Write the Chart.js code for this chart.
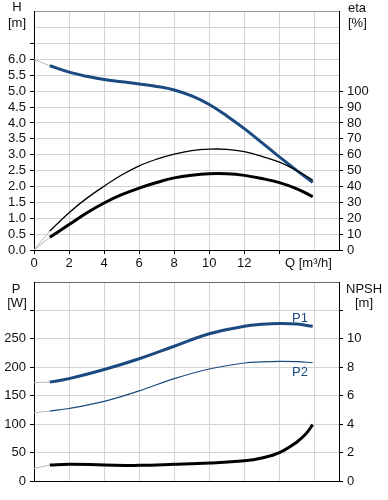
<!DOCTYPE html>
<html>
<head>
<meta charset="utf-8">
<script src="https://cdn.jsdelivr.net/npm/chart.js@4/dist/chart.umd.min.js"></script>
<style>
  html, body { margin: 0; padding: 0; background: #fff; }
  #wrap { position: relative; width: 388px; height: 500px; }
  canvas { position: absolute; left: 0; }
  #topChart { top: 0; }
  #bottomChart { top: 270px; }
</style>
</head>
<body>
<div id="wrap">
  <canvas id="topChart" width="388" height="270"></canvas>
  <canvas id="bottomChart" width="388" height="230"></canvas>
</div>
<script>
// --- top chart: head and efficiency vs flow ---
const flowTop = [0.9, 2, 3, 4, 5, 6, 7, 8, 9, 10, 11, 12, 13, 14, 15, 15.9];
const head = [5.8, 5.6, 5.47, 5.37, 5.3, 5.23, 5.15, 5.04, 4.85, 4.58, 4.22, 3.82, 3.38, 2.93, 2.5, 2.13];
const eta1 = [12, 23.5, 32.5, 40.2, 47.2, 53, 57.2, 60.4, 62.6, 63.5, 63.4, 62, 59, 55.3, 50, 44];
const eta2 = [8, 16, 23.3, 29.6, 34.8, 39, 42.5, 45.4, 47.1, 48, 48, 47, 45, 42.4, 38.5, 33.6];
const flowExt = [0, 0.9];
const headExt = [6.0, 5.8];
const eta1Ext = [0, 12];
const eta2Ext = [0, 8];

// --- bottom chart: power and NPSH vs flow ---
const flowP = [0.9, 2, 4, 6, 8, 10, 12, 13, 14, 15, 15.9];
const p1 = [174, 180, 196, 215, 237, 259, 272, 275.5, 277, 276, 272];
const p2 = [123, 127.5, 140, 158.5, 180, 197, 207.5, 209.5, 210.5, 210, 208];
const p1Ext = [173, 174];
const p2Ext = [120, 123];
const flowNpsh = [0.9, 2, 4, 6, 8, 10, 12, 13, 14, 15, 15.5, 15.9];
const npsh = [1.12, 1.18, 1.13, 1.1, 1.17, 1.26, 1.42, 1.62, 2.0, 2.75, 3.3, 3.96];
const npshExt = [0.88, 1.12];

const BLUE = '#1b4a80';
const GRID = '#d4d4d4';
const EXT = '#b4b4b4';
const FONT = { family: '"Liberation Sans", Arial, sans-serif', size: 13 };

Chart.defaults.font = FONT;
Chart.defaults.color = '#111';

const pts = (xs, ys) => xs.map((x, i) => ({ x: x, y: ys[i] }));

function line(data, color, width, axis) {
  return {
    data: data,
    borderColor: color,
    borderWidth: width,
    pointRadius: 0,
    fill: false,
    tension: 0.4,
    yAxisID: axis
  };
}

function texts(items) {
  return {
    id: 'texts',
    afterDraw(chart) {
      const ctx = chart.ctx;
      ctx.save();
      ctx.font = '13px "Liberation Sans", Arial, sans-serif';
      ctx.textBaseline = 'middle';
      items.forEach(t => {
        ctx.fillStyle = t.color || '#111';
        ctx.textAlign = t.align || 'left';
        ctx.fillText(t.text, t.x, t.y);
      });
      ctx.restore();
    }
  };
}

function xAxis(showLabels, height) {
  return {
    type: 'linear',
    min: 0,
    max: 17.4,
    afterFit: s => { s.height = height; },
    border: { color: '#000' },
    grid: {
      color: GRID,
      drawTicks: showLabels,
      tickLength: 4,
      tickColor: c => (c.tick.value <= 14 ? '#000' : 'transparent')
    },
    ticks: {
      display: showLabels,
      stepSize: 2,
      autoSkip: false,
      maxRotation: 0,
      padding: 2,
      includeBounds: false,
      callback: v => (v <= 12 ? v : '')
    }
  };
}

function yAxis(pos, max, step, lastLabel, lastTick, topColor, fmt, width) {
  return {
    type: 'linear',
    position: pos,
    min: 0,
    max: max,
    afterFit: s => { s.width = width; },
    border: { color: '#000' },
    grid: {
      drawOnChartArea: pos === 'left',
      color: c => (c.tick.value >= max ? topColor : GRID),
      tickLength: 4,
      tickColor: c => (c.tick.value <= lastTick + 1e-6 ? '#000' : 'transparent')
    },
    ticks: {
      stepSize: step,
      autoSkip: false,
      padding: 4,
      callback: v => (v <= lastLabel + 1e-6 ? fmt(v) : '')
    }
  };
}

new Chart(document.getElementById('topChart'), {
  type: 'line',
  data: {
    datasets: [
      line(pts(flowExt, headExt), EXT, 1, 'y'),
      line(pts(flowExt, eta1Ext), EXT, 1, 'y2'),
      line(pts(flowExt, eta2Ext), EXT, 1, 'y2'),
      line(pts(flowTop, eta1), '#000', 1.3, 'y2'),
      line(pts(flowTop, eta2), '#000', 3, 'y2'),
      line(pts(flowTop, head), BLUE, 3, 'y')
    ]
  },
  options: {
    responsive: false,
    animation: false,
    layout: { padding: 0 },
    plugins: { legend: { display: false }, tooltip: { enabled: false } },
    scales: {
      x: xAxis(true, 20),
      y: yAxis('left', 7.5, 0.5, 6, 6.5, '#999', v => v.toFixed(1), 34),
      y2: yAxis('right', 150, 10, 100, 100, '#999', v => v, 49)
    }
  },
  plugins: [texts([
    { text: 'H', x: 17, y: 7, align: 'center' },
    { text: '[m]', x: 17, y: 23, align: 'center' },
    { text: 'eta', x: 348, y: 8 },
    { text: '[%]', x: 348, y: 23 },
    { text: 'Q [m³/h]', x: 285, y: 263 }
  ])]
});

new Chart(document.getElementById('bottomChart'), {
  type: 'line',
  data: {
    datasets: [
      line(pts(flowExt, p1Ext), EXT, 1, 'y'),
      line(pts(flowExt, p2Ext), EXT, 1, 'y'),
      line(pts(flowExt, npshExt), EXT, 1, 'y2'),
      line(pts(flowP, p2), BLUE, 1.2, 'y'),
      line(pts(flowP, p1), BLUE, 3, 'y'),
      line(pts(flowNpsh, npsh), '#000', 3, 'y2')
    ]
  },
  options: {
    responsive: false,
    animation: false,
    layout: { padding: { top: 12, left: 0, right: 0, bottom: 0 } },
    plugins: { legend: { display: false }, tooltip: { enabled: false } },
    scales: {
      x: xAxis(false, 19),
      y: yAxis('left', 350, 50, 250, 300, '#666', v => v, 34),
      y2: yAxis('right', 14, 2, 10, 12, '#666', v => v, 49)
    }
  },
  plugins: [texts([
    { text: 'P', x: 16, y: 19, align: 'center' },
    { text: '[W]', x: 17, y: 33, align: 'center' },
    { text: 'NPSH', x: 346, y: 19 },
    { text: '[m]', x: 355, y: 33 },
    { text: 'P1', x: 292, y: 48, color: BLUE },
    { text: 'P2', x: 292, y: 102, color: BLUE }
  ])]
});
</script>
</body>
</html>
